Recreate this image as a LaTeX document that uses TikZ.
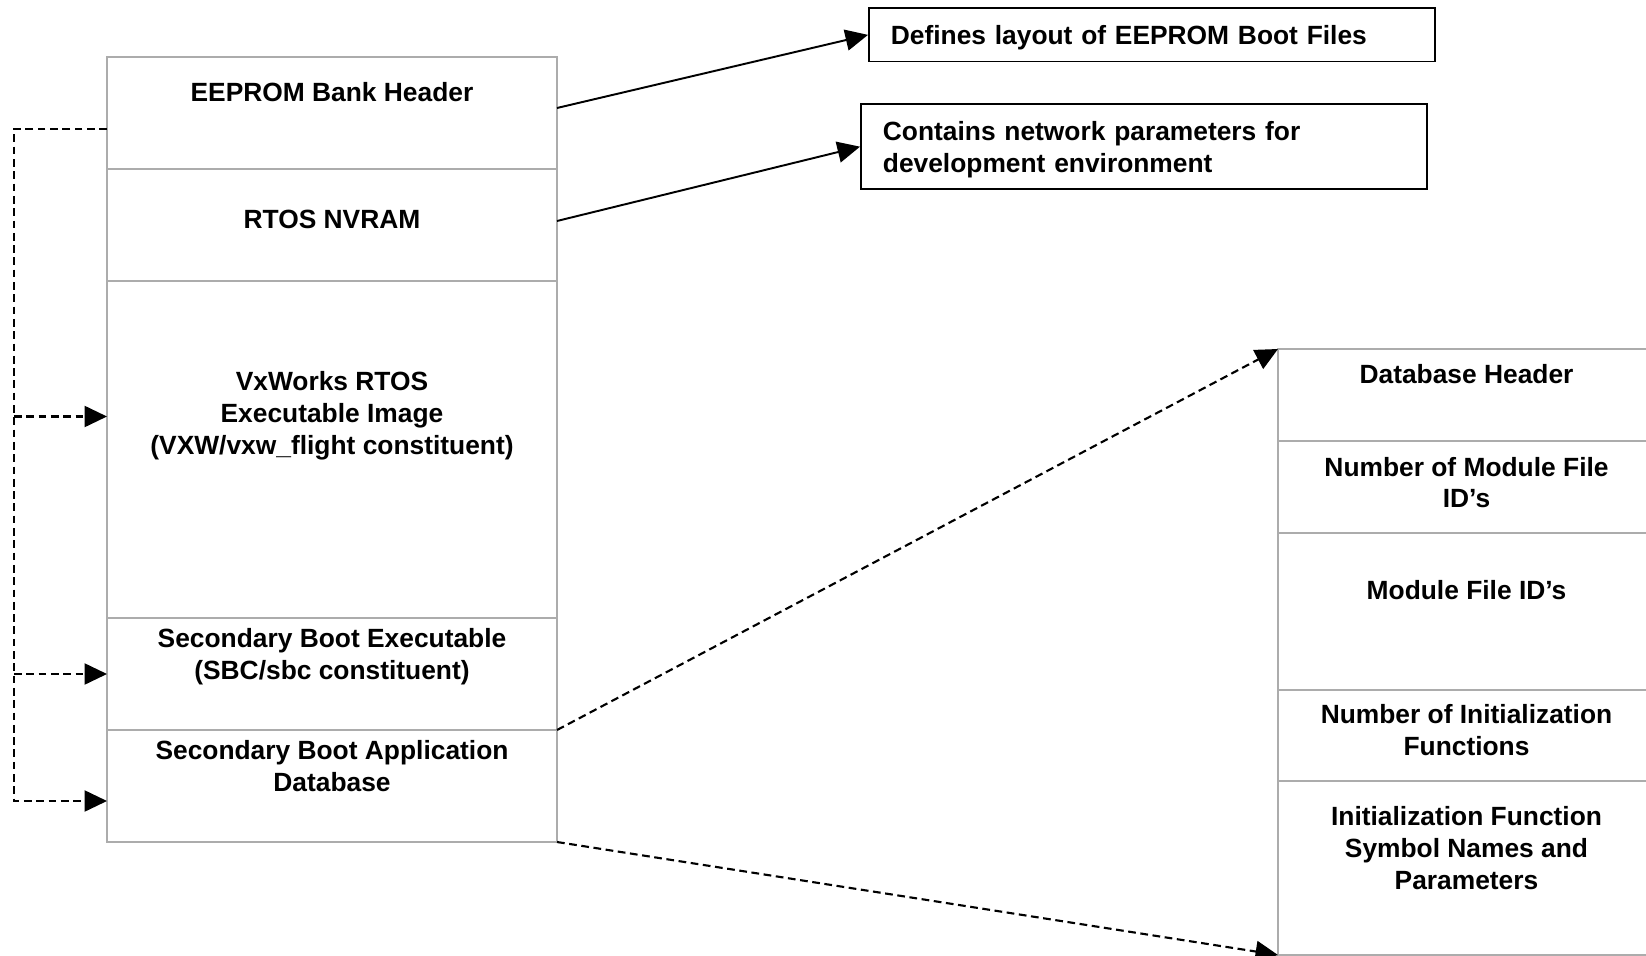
\documentclass[tikz,border=0pt]{standalone}
\usepackage{fontspec}
\setmainfont{Liberation Sans}
\usetikzlibrary{positioning,arrows.meta}
\begin{document}
\begin{tikzpicture}[
	cell/.style = {draw=gray!65, line width=0.4pt, minimum width=4.5cm, inner sep=0pt, outer sep=0pt},
	dbcell/.style = {cell, minimum width=3.77cm},
	txt/.style = {font=\bfseries\fontsize{7.5}{9}\selectfont, align=center, inner sep=0pt},
	note/.style = {draw, line width=0.5pt, font=\bfseries\fontsize{7.5}{9}\selectfont, align=left,
		text width=5.22cm, inner xsep=0.22cm, inner ysep=0pt, anchor=north west},
	tip/.style = {-{Triangle[length=6.4pt,width=6pt]}, line width=0.55pt},
	dtip/.style = {tip, line width=0.6pt, dash pattern=on 2.2pt off 1.3pt}
			]
	\def\cellh{1.12}
	\def\dbh{0.92}
	\useasboundingbox (0,0) rectangle (16.46,-9.56);
	\clip (0,0) rectangle (16.46,-9.56);
	% EEPROM bank
	\node[cell, minimum height=\cellh cm, anchor=north west] (hdr) at (1.07,-0.57) {};
	\node[cell, minimum height=\cellh cm, below=0pt of hdr] (nvram) {};
	\node[cell, minimum height=3.37cm, below=0pt of nvram] (vxw) {};
	\node[cell, minimum height=\cellh cm, below=0pt of vxw] (sbe) {};
	\node[cell, minimum height=\cellh cm, below=0pt of sbe] (sba) {};
	\node[txt, below=0.25 of hdr.north] (hdrtxt) {EEPROM Bank Header};
	\node[txt, below=0.40 of nvram.north] (nvramtxt) {RTOS NVRAM};
	\node[txt, below=0.90 of vxw.north] (vxwtxt) {VxWorks RTOS\\Executable Image\\(VXW/vxw\_flight constituent)};
	\node[txt, below=0.10 of sbe.north] (sbetxt) {Secondary Boot Executable\\(SBC/sbc constituent)};
	\node[txt, below=0.10 of sba.north] (sbatxt) {Secondary Boot Application\\Database};
	% notes
	\node[note, minimum height=0.534cm, text depth=0pt] (layout) at (8.68,-0.073) {Defines layout of EEPROM Boot Files};
	\node[note, minimum height=0.85cm, text depth=8.9pt] (netpar) at (8.60,-1.033) {Contains network parameters for\\development environment};
	% database
	\node[dbcell, minimum height=\dbh cm, anchor=north west] (dbhdr) at (12.78,-3.49) {};
	\node[dbcell, minimum height=\dbh cm, below=0pt of dbhdr] (nmod) {};
	\node[dbcell, minimum height=1.57cm, below=0pt of nmod] (mods) {};
	\node[dbcell, minimum height=0.91cm, below=0pt of mods] (ninit) {};
	\node[dbcell, minimum height=1.74cm, below=0pt of ninit] (initf) {};
	\node[txt, below=0.15 of dbhdr.north] (dbhdrtxt) {Database Header};
	\node[txt, below=0.155 of nmod.north] (nmodtxt) {Number of Module File\\ID’s};
	\node[txt, below=0.47 of mods.north] (modstxt) {Module File ID’s};
	\node[txt, below=0.14 of ninit.north] (ninittxt) {Number of Initialization\\Functions};
	\node[txt, below=0.25 of initf.north] (initftxt) {Initialization Function\\Symbol Names and\\Parameters};
	% links
	\draw[tip] ([yshift=0.5mm]hdr.east) -- (layout.west);
	\draw[tip] ([yshift=0.4mm]nvram.east) -- (netpar.west);
	\draw[dtip] (sba.north east) -- (dbhdr.north west);
	\draw[dtip] (sba.south east) -- (initf.south west);
	\coordinate (bus) at (0.14,0);
	\coordinate (vxwin) at ([yshift=3.3mm]vxw.west);
	\coordinate (sbain) at ([yshift=-1.5mm]sba.west);
	\draw[dtip] ([yshift=-1.6mm]hdr.west) -| (bus |- sbain) -- (sbain);
	\draw[dtip] (bus |- vxwin) -- (vxwin);
	\draw[dtip] (bus |- sbe.west) -- (sbe.west);
\end{tikzpicture}
\end{document}
